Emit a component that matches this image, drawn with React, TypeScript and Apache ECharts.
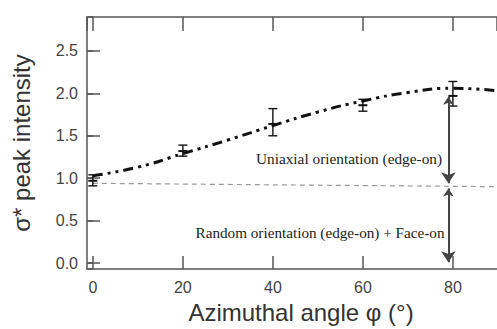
import React, { useEffect, useRef } from "react";
import * as echarts from "echarts";

// Measured points with error bars
const angles = [0, 20, 40, 60, 80];
const intensity = [0.97, 1.32, 1.64, 1.86, 1.97];
const errLow = [0.91, 1.26, 1.5, 1.79, 1.85];
const errHigh = [1.04, 1.39, 1.82, 1.93, 2.14];

// Fitted curve (dash-dot-dot)
const fitAngles = [0, 10, 20, 30, 40, 50, 60, 70, 80, 90];
const fitValues = [1.03, 1.13, 1.29, 1.45, 1.62, 1.78, 1.91, 2.01, 2.06, 2.03];

// Gray dashed baseline
const baseAngles = [0, 90];
const baseValues = [0.94, 0.9];

// Arrows at phi ~ 79
const arrowAngle = 79;
const upperArrow = [1.96, 0.94];
const lowerArrow = [0.88, 0.01];

const labelUniaxial = "Uniaxial orientation (edge-on)";
const labelRandom = "Random orientation (edge-on) + Face-on";

const X_MIN = -1.3;
const X_MAX = 89.8;
const Y_MIN = -0.07;
const Y_MAX = 2.9;

export default function App() {
  const ref = useRef<HTMLDivElement>(null);
  useEffect(() => {
    if (!ref.current) return;
    const chart = echarts.init(ref.current, null, { renderer: "svg" });
    const axisColor = "#555";
    const sans = "'Liberation Sans', Arial, sans-serif";
    const serif = "'Liberation Serif', 'Times New Roman', serif";
    const option: any = {
      animation: false,
      backgroundColor: "#fff",
      grid: { left: 87, top: 17, right: -1, bottom: 56, containLabel: false },
      xAxis: [
        {
          type: "value",
          min: X_MIN,
          max: X_MAX,
          splitNumber: 5,
          position: "bottom",
          axisLine: { show: true, onZero: false, lineStyle: { color: axisColor, width: 1.5 } },
          axisTick: { show: true, inside: true, length: 13, lineStyle: { color: axisColor, width: 1.5 } },
          axisLabel: {
            show: true,
            margin: 10,
            fontSize: 16,
            color: "#444",
            fontFamily: sans,
            showMinLabel: false,
            showMaxLabel: false,
          },
          splitLine: { show: false },
          name: "Azimuthal angle φ (°)",
          nameLocation: "middle",
          nameGap: 31,
          nameTextStyle: { fontSize: 24, color: "#333", fontFamily: sans, padding: [0, 0, 0, 18] },
        },
        {
          type: "value",
          min: X_MIN,
          max: X_MAX,
          splitNumber: 5,
          position: "top",
          axisLine: { show: true, onZero: false, lineStyle: { color: axisColor, width: 1.5 } },
          axisTick: { show: true, inside: true, length: 14, lineStyle: { color: axisColor, width: 1.5 } },
          axisLabel: { show: false },
          splitLine: { show: false },
        },
      ],
      yAxis: [
        {
          type: "value",
          min: Y_MIN,
          max: Y_MAX,
          splitNumber: 6,
          position: "left",
          axisLine: { show: true, onZero: false, lineStyle: { color: axisColor, width: 1.5 } },
          axisTick: { show: true, inside: true, length: 13, lineStyle: { color: axisColor, width: 1.5 } },
          axisLabel: {
            show: true,
            margin: 9,
            fontSize: 16,
            color: "#444",
            fontFamily: sans,
            showMinLabel: false,
            showMaxLabel: false,
            formatter: (v: number) => v.toFixed(1),
          },
          splitLine: { show: false },
          name: "σ* peak intensity",
          nameLocation: "middle",
          nameGap: 54,
          nameTextStyle: { fontSize: 24, color: "#333", fontFamily: sans },
        },
        {
          type: "value",
          min: Y_MIN,
          max: Y_MAX,
          splitNumber: 6,
          position: "right",
          axisLine: { show: false },
          axisTick: { show: true, inside: true, length: 5, lineStyle: { color: axisColor, width: 1.5 } },
          axisLabel: { show: false },
          splitLine: { show: false },
        },
      ],
      series: [
        {
          type: "line",
          data: baseAngles.map((a, i) => [a, baseValues[i]]),
          symbol: "none",
          lineStyle: { color: "#999", width: 1.2, type: [5, 4] },
          z: 2,
        },
        {
          type: "line",
          data: fitAngles.map((a, i) => [a, fitValues[i]]),
          smooth: true,
          symbol: "none",
          lineStyle: { color: "#111", width: 3, type: [10, 5, 3, 5, 3, 5], cap: "butt" },
          z: 3,
        },
        {
          type: "custom",
          data: angles.map((a, i) => [a, errLow[i], errHigh[i], intensity[i]]),
          encode: { x: 0, y: [1, 2] },
          z: 4,
          renderItem: (params: any, api: any) => {
            const x = api.value(0);
            const pLo = api.coord([x, api.value(1)]);
            const pHi = api.coord([x, api.value(2)]);
            const pV = api.coord([x, api.value(3)]);
            const w = 4.5;
            const st = { stroke: "#111", lineWidth: 1.4 };
            return {
              type: "group",
              children: [
                { type: "line", shape: { x1: pLo[0], y1: pLo[1], x2: pHi[0], y2: pHi[1] }, style: st },
                { type: "line", shape: { x1: pLo[0] - w, y1: pLo[1], x2: pLo[0] + w, y2: pLo[1] }, style: st },
                { type: "line", shape: { x1: pHi[0] - w, y1: pHi[1], x2: pHi[0] + w, y2: pHi[1] }, style: st },
                { type: "line", shape: { x1: pV[0] - w, y1: pV[1], x2: pV[0] + w, y2: pV[1] }, style: { stroke: "#111", lineWidth: 2 } },
              ],
            };
          },
        },
        {
          type: "lines",
          coordinateSystem: "cartesian2d",
          symbol: ["arrow", "arrow"],
          symbolSize: [8, 11],
          lineStyle: { color: "#444", width: 2, opacity: 1 },
          z: 5,
          data: [
            { coords: [[arrowAngle, upperArrow[0]], [arrowAngle, upperArrow[1]]] },
            { coords: [[arrowAngle, lowerArrow[0]], [arrowAngle, lowerArrow[1]]] },
          ],
        },
      ],
      graphic: [
        {
          type: "text",
          x: 349,
          y: 158,
          style: {
            text: labelUniaxial,
            font: `15.3px ${serif}`,
            fill: "#222",
            textAlign: "center",
            align: "center",
            textVerticalAlign: "middle",
            verticalAlign: "middle",
          },
        },
        {
          type: "text",
          x: 320,
          y: 232,
          style: {
            text: labelRandom,
            font: `15.2px ${serif}`,
            fill: "#222",
            textAlign: "center",
            align: "center",
            textVerticalAlign: "middle",
            verticalAlign: "middle",
          },
        },
      ],
    };
    chart.setOption(option);
    return () => chart.dispose();
  }, []);
  return (
    <div
      ref={ref}
      style={{ position: "fixed", left: 0, top: 0, width: 497, height: 329, background: "#fff" }}
    />
  );
}
